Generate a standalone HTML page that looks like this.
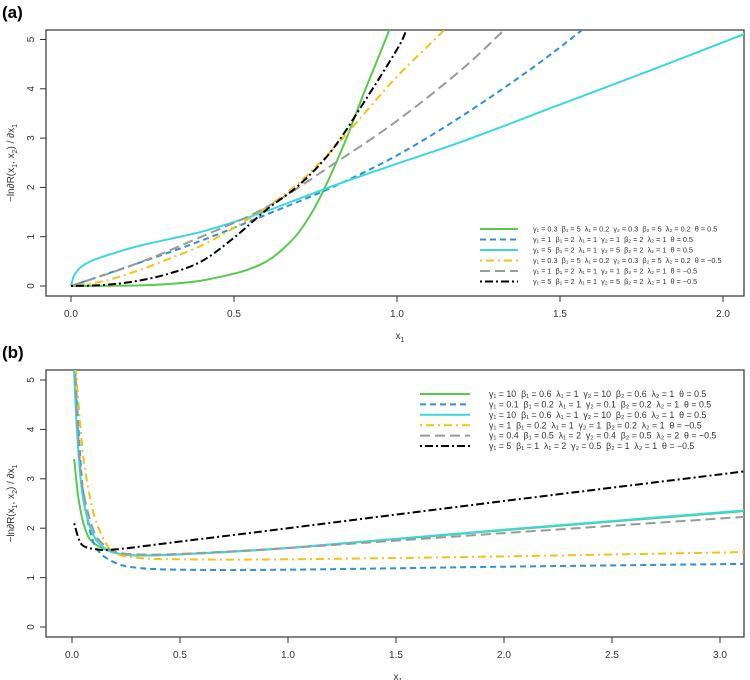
<!DOCTYPE html>
<html><head><meta charset="utf-8"><style>
body{margin:0;background:#fff;}
svg{display:block;font-family:"Liberation Sans",sans-serif;}
svg text{white-space:pre;}
</style></head><body>
<svg id="chart" width="750" height="680" viewBox="0 0 750 680">
<defs>
<clipPath id="clipA"><rect x="46" y="30" width="698" height="266"/></clipPath>
<clipPath id="clipB"><rect x="46" y="370" width="698" height="267"/></clipPath>
</defs>
<text x="2" y="18" font-size="17" font-weight="bold">(a)</text>
<text x="2" y="358" font-size="17" font-weight="bold">(b)</text>
<g id="gA"></g>
<g id="gB"></g>
</svg>
<script>
// Panel (a) data
const aXTicks=[0,0.5,1.0,1.5,2.0];
const aXTickLabels=["0.0","0.5","1.0","1.5","2.0"];
const aYTicks=[0,1,2,3,4,5];
const aGreenX=[0,0.2,0.3,0.4,0.5,0.55,0.6,0.65,0.7,0.75,0.8,0.85,0.9,0.95,1.0];
const aGreenY=[0,0.01,0.04,0.11,0.25,0.35,0.5,0.75,1.1,1.62,2.3,3.08,3.94,4.75,5.6];
const aBlueX=[0,0.2,0.4,0.6,0.8,1.0,1.2,1.4,1.55,1.6];
const aBlueY=[0,0.45,0.92,1.45,2.0,2.65,3.45,4.35,5.1,5.4];
const aCyanX=[0,0.005,0.01,0.03,0.06,0.1,0.2,0.3,0.4,0.5,0.6,0.8,1.0,1.2,1.5,1.8,2.1];
const aCyanY=[0,0.12,0.22,0.38,0.5,0.6,0.8,0.95,1.1,1.3,1.52,2.02,2.48,2.93,3.68,4.43,5.2];
const aYellowX=[0,0.1,0.2,0.3,0.4,0.5,0.6,0.7,0.8,0.9,1.0,1.14,1.2];
const aYellowY=[0,0.1,0.3,0.55,0.82,1.18,1.6,2.1,2.75,3.5,4.25,5.16,5.6];
const aGrayX=[0,0.2,0.4,0.6,0.8,1.0,1.2,1.33,1.4];
const aGrayY=[0,0.45,1.0,1.6,2.45,3.35,4.4,5.2,5.6];
const aBlackX=[0,0.1,0.2,0.3,0.4,0.5,0.6,0.7,0.8,0.9,1.0,1.03,1.06];
const aBlackY=[0,0.02,0.1,0.25,0.5,0.98,1.55,2.05,2.75,3.74,4.8,5.2,5.6];
const aLegend=["γ\u2081=0.3  β\u2081=5  λ\u2081=0.2  γ\u2082=0.3  β\u2082=5  λ\u2082=0.2  θ=0.5",
"γ\u2081=1  β\u2081=2  λ\u2081=1  γ\u2082=1  β\u2082=2  λ\u2082=1  θ=0.5",
"γ\u2081=5  β\u2081=2  λ\u2081=1  γ\u2082=5  β\u2082=2  λ\u2082=1  θ=0.5",
"γ\u2081=0.3  β\u2081=5  λ\u2081=0.2  γ\u2082=0.3  β\u2082=5  λ\u2082=0.2  θ=−0.5",
"γ\u2081=1  β\u2081=2  λ\u2081=1  γ\u2082=1  β\u2082=2  λ\u2082=1  θ=−0.5",
"γ\u2081=5  β\u2081=2  λ\u2081=1  γ\u2082=5  β\u2082=2  λ\u2082=1  θ=−0.5"];
// Panel (b) data
const bXTicks=[0,0.5,1.0,1.5,2.0,2.5,3.0];
const bXTickLabels=["0.0","0.5","1.0","1.5","2.0","2.5","3.0"];
const bYTicks=[0,1,2,3,4,5];
const bGreenX=[0.01,0.03,0.06,0.1,0.2,0.3,0.5,1.0,2.0,3.15];
const bGreenY=[3.4,2.6,2.0,1.7,1.5,1.45,1.47,1.6,1.96,2.36];
const bBlueX=[0.012,0.03,0.05,0.08,0.12,0.2,0.3,0.5,1.0,2.0,3.15];
const bBlueY=[5.4,4.0,2.8,2.0,1.55,1.3,1.2,1.16,1.16,1.22,1.28];
const bCyanX=[0.008,0.02,0.04,0.06,0.1,0.15,0.2,0.3,0.5,1.0,2.0,3.15];
const bCyanY=[5.4,4.2,3.0,2.4,1.85,1.6,1.5,1.45,1.47,1.6,1.97,2.37];
const bYellowX=[0.015,0.04,0.06,0.1,0.15,0.2,0.3,0.5,1.0,2.0,3.15];
const bYellowY=[5.4,4.0,3.2,2.3,1.75,1.5,1.4,1.37,1.37,1.43,1.52];
const bGrayX=[0.012,0.03,0.05,0.1,0.15,0.2,0.3,0.5,1.0,2.0,3.15];
const bGrayY=[5.4,3.8,2.8,1.95,1.65,1.52,1.47,1.48,1.6,1.9,2.24];
const bBlackX=[0.01,0.03,0.05,0.1,0.2,0.5,1.0,2.0,3.15];
const bBlackY=[2.1,1.8,1.65,1.58,1.57,1.73,2.0,2.55,3.17];
const bLegend=["γ\u2081=10  β\u2081=0.6  λ\u2081=1  γ\u2082=10  β\u2082=0.6  λ\u2082=1  θ=0.5",
"γ\u2081=0.1  β\u2081=0.2  λ\u2081=1  γ\u2082=0.1  β\u2082=0.2  λ\u2082=1  θ=0.5",
"γ\u2081=10  β\u2081=0.6  λ\u2081=1  γ\u2082=10  β\u2082=0.6  λ\u2082=1  θ=0.5",
"γ\u2081=1  β\u2081=0.2  λ\u2081=1  γ\u2082=1  β\u2082=0.2  λ\u2082=1  θ=−0.5",
"γ\u2081=0.4  β\u2081=0.5  λ\u2081=2  γ\u2082=0.4  β\u2082=0.5  λ\u2082=2  θ=−0.5",
"γ\u2081=5  β\u2081=1  λ\u2081=2  γ\u2082=0.5  β\u2082=1  λ\u2082=1  θ=−0.5"];

const NS="http://www.w3.org/2000/svg";
const styles=[
 {c:"#5ac84e",d:"",n:"green"},
 {c:"#2f8fd8",d:"6,4",n:"blue"},
 {c:"#38d8dc",d:"",n:"cyan"},
 {c:"#f2c218",d:"2,4,8,4",n:"yellow"},
 {c:"#9a9a9a",d:"10,5",n:"gray"},
 {c:"#000000",d:"2,3,8,3",n:"black"}];
function mk(tag,attrs,parent){const e=document.createElementNS(NS,tag);for(const k in attrs)e.setAttribute(k,attrs[k]);parent.appendChild(e);return e;}
function smooth(pts){
 let d="M"+pts[0][0].toFixed(1)+","+pts[0][1].toFixed(1);
 for(let i=0;i<pts.length-1;i++){
  const p0=pts[Math.max(0,i-1)],p1=pts[i],p2=pts[i+1],p3=pts[Math.min(pts.length-1,i+2)];
  const c1=[p1[0]+(p2[0]-p0[0])/6,p1[1]+(p2[1]-p0[1])/6];
  const c2=[p2[0]-(p3[0]-p1[0])/6,p2[1]-(p3[1]-p1[1])/6];
  d+=` C${c1[0].toFixed(1)},${c1[1].toFixed(1)} ${c2[0].toFixed(1)},${c2[1].toFixed(1)} ${p2[0].toFixed(1)},${p2[1].toFixed(1)}`;
 }
 return d;
}
function panel(g,cfg){
 const sx=v=>cfg.x0+cfg.kx*v, sy=v=>cfg.y0-cfg.ky*v;
 const box=mk("rect",{x:cfg.bl,y:cfg.bt,width:cfg.br-cfg.bl,height:cfg.bb-cfg.bt,fill:"none",stroke:"#333","stroke-width":1.2},g);
 
 
 cfg.xt.forEach((t,i)=>{
  const l=mk("line",{x1:sx(t),x2:sx(t),y1:cfg.bb,y2:cfg.bb+6,stroke:"#333"},g);
  
  
  const tx=mk("text",{x:sx(t),y:cfg.bb+21,"font-size":10,"text-anchor":"middle",fill:"#333"},g);
  tx.textContent=cfg.xl[i];
  
  
 });
 cfg.yt.forEach(t=>{
  const l=mk("line",{x1:cfg.bl,x2:cfg.bl-6,y1:sy(t),y2:sy(t),stroke:"#333"},g);
  
  
  const tx=mk("text",{x:0,y:0,"font-size":10,"text-anchor":"middle",fill:"#333",transform:`translate(34,${sy(t)}) rotate(-90)`},g);
  tx.textContent=String(t);
  
  
 });
 const xt=mk("text",{x:cfg.xtx,y:cfg.bb+43,"font-size":10,"text-anchor":"middle",fill:"#333"},g);
 xt.innerHTML='x<tspan font-size="7" dy="3">1</tspan>';
 
 
 const yt=mk("text",{x:0,y:0,"font-size":10,"text-anchor":"middle",fill:"#333",transform:`translate(14,${(cfg.bt+cfg.bb)/2}) rotate(-90)`},g);
 yt.innerHTML='−ln∂R(x<tspan font-size="7" dy="3">1</tspan><tspan dy="-3">, x</tspan><tspan font-size="7" dy="3">2</tspan><tspan dy="-3">) / ∂x</tspan><tspan font-size="7" dy="3">1</tspan>';
 
 
 const sg=mk("g",{"clip-path":`url(#${cfg.clip})`},g);
 cfg.series.forEach((s,i)=>{
  const st=styles[i];
  const pts=s[0].map((x,j)=>[sx(x),sy(s[1][j])]);
  const p=mk("path",{d:smooth(pts),fill:"none",stroke:st.c,"stroke-width":2,"stroke-dasharray":st.d,"stroke-linejoin":"round"},sg);
  
  
 });
 cfg.leg.forEach((t,i)=>{
  const y=cfg.ly+i*cfg.ls;
  const l=mk("line",{x1:cfg.lx1,x2:cfg.lx2,y1:y,y2:y,stroke:styles[i].c,"stroke-width":2,"stroke-dasharray":styles[i].d},g);
  
  
  const tx=mk("text",{x:cfg.ltx,y:y+cfg.lf*0.35,"font-size":cfg.lf,fill:"#333"},g);
  tx.textContent=t.replace(/=/g," = ");
  
  
 });
}
panel(document.getElementById("gA"),{x0:71,kx:326,y0:286,ky:49.3,bl:46,br:744,bt:30,bb:296,clip:"clipA",xtx:400,
 xt:aXTicks,xl:aXTickLabels,yt:aYTicks,
 series:[[aGreenX,aGreenY],[aBlueX,aBlueY],[aCyanX,aCyanY],[aYellowX,aYellowY],[aGrayX,aGrayY],[aBlackX,aBlackY]],
 leg:aLegend,ly:229,ls:10.5,lx1:480,lx2:518,ltx:533,lf:7.3});
panel(document.getElementById("gB"),{x0:72,kx:216,y0:627,ky:49.4,bl:46,br:744,bt:370,bb:637,clip:"clipB",xtx:398,
 xt:bXTicks,xl:bXTickLabels,yt:bYTicks,
 series:[[bGreenX,bGreenY],[bBlueX,bBlueY],[bCyanX,bCyanY],[bYellowX,bYellowY],[bGrayX,bGrayY],[bBlackX,bBlackY]],
 leg:bLegend,ly:394,ls:10.4,lx1:420,lx2:470,ltx:489,lf:8.8});
</script>
</body></html>
